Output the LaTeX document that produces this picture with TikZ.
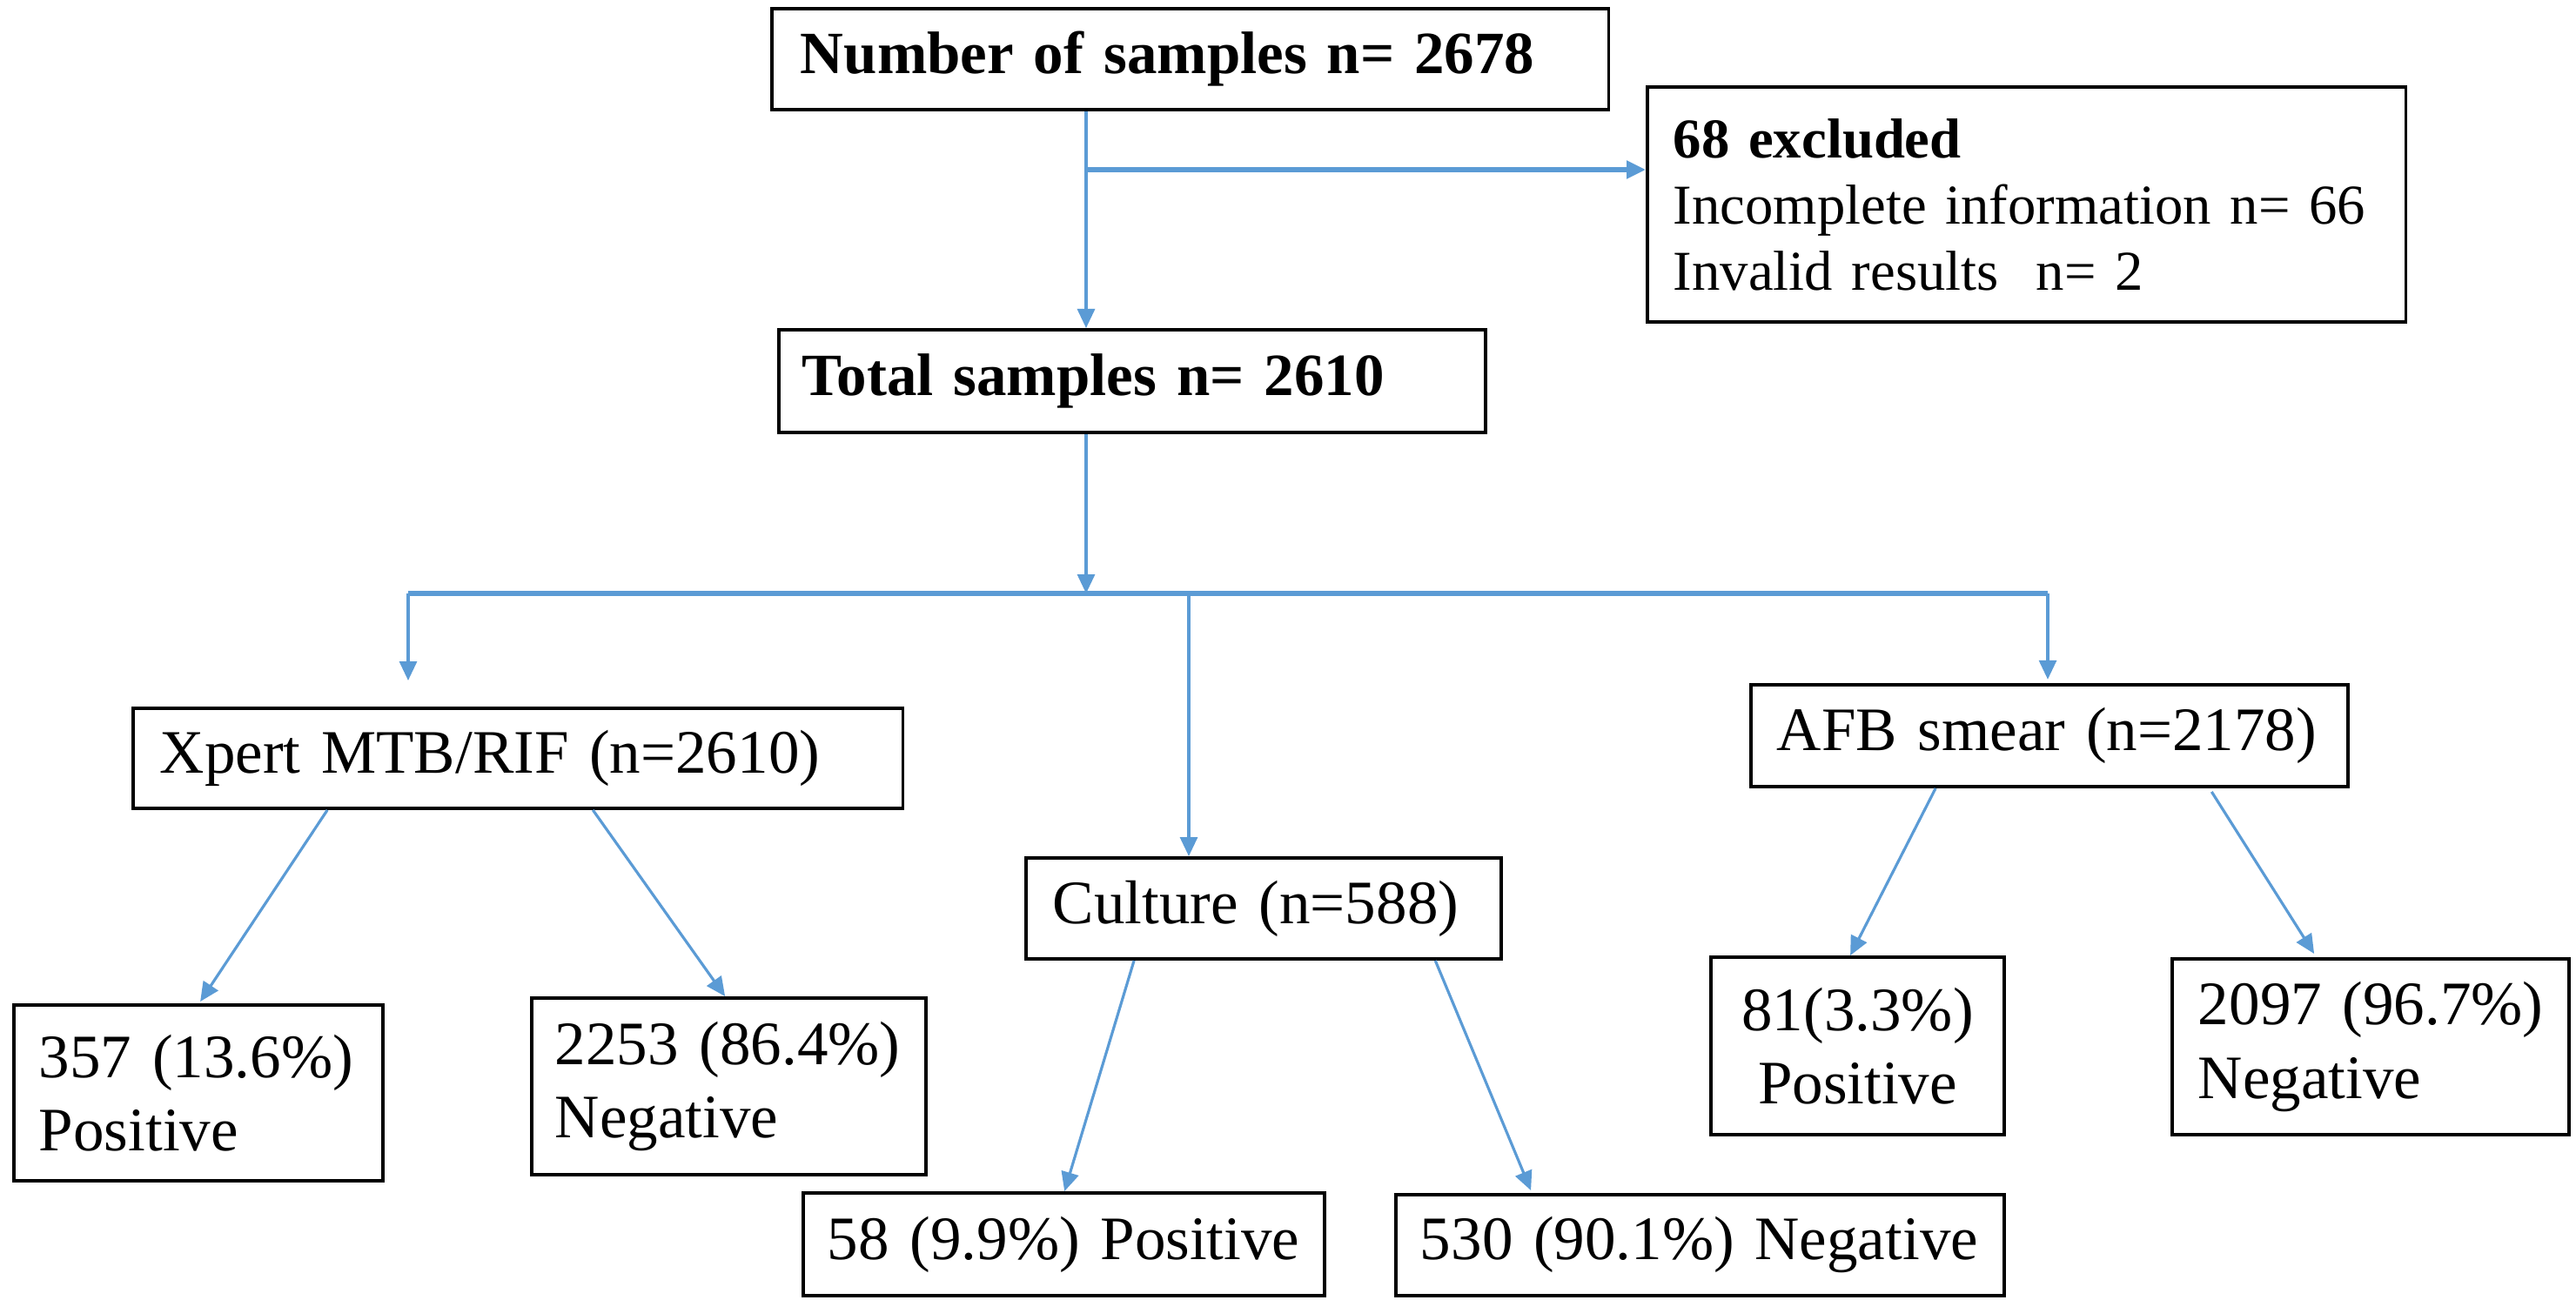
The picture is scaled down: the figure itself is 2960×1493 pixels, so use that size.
\documentclass[tikz,border=0pt]{standalone}
\usepackage{fontspec}
\setmainfont{Liberation Serif}
\usetikzlibrary{arrows.meta,calc}
\definecolor{flowblue}{HTML}{5B9BD5}
\tikzset{
  box/.style={draw=black, line width=1.1pt, anchor=north west, inner ysep=0pt},
  regtext/.style={font=\fontsize{20.2}{23.9}\selectfont},
  boldtext/.style={font=\fontsize{19.6}{23}\selectfont\bfseries},
  excltext/.style={font=\fontsize{18.4}{21.6}\selectfont},
  connline/.style={draw=flowblue, line width=0.9pt, -{Triangle[length=0.22cm,width=0.2cm]}},
  branchline/.style={draw=flowblue, line width=1.5pt},
}
\begin{document}
\begin{tikzpicture}[x=0.01cm,y=-0.01cm]
\useasboundingbox[fill=white] (0,0) rectangle (2960,1493);

% boxes
\node[box, boldtext, align=left, inner xsep=0.33cm, text width=8.95cm, minimum height=1.16cm] (num) at (885,8) {\mbox{Number of samples n= 2678}};
\node[box, excltext, align=left, inner xsep=0.30cm, text width=8.11cm, minimum height=2.70cm] (excl) at (1891,98) {\mbox{\textbf{68 excluded}}\\\mbox{Incomplete information n= 66}\\\mbox{Invalid results\ \ n= 2}};
\node[box, boldtext, align=left, inner xsep=0.27cm, text width=7.58cm, minimum height=1.18cm] (total) at (893,377) {\mbox{Total samples n= 2610}};
\node[box, regtext, align=left, inner xsep=0.31cm, text width=8.22cm, minimum height=1.15cm] (xpert) at (151,812) {\mbox{Xpert MTB/RIF (n=2610)}};
\node[box, regtext, align=left, inner xsep=0.31cm, text width=4.84cm, minimum height=1.16cm] (culture) at (1177,984) {\mbox{Culture (n=588)}};
\node[box, regtext, align=left, inner xsep=0.30cm, text width=6.26cm, minimum height=1.17cm] (afb) at (2010,785) {\mbox{AFB smear (n=2178)}};
\node[box, regtext, align=left, inner xsep=0.29cm, text width=3.66cm, minimum height=2.02cm] (pos1) at (14,1153) {\mbox{357 (13.6\%)}\\\mbox{Positive}};
\node[box, regtext, align=left, inner xsep=0.27cm, text width=3.99cm, minimum height=2.03cm] (neg1) at (609,1145) {\mbox{2253 (86.4\%)}\\\mbox{Negative}};
\node[box, regtext, align=left, inner xsep=0.28cm, text width=5.43cm, minimum height=1.18cm] (pos2) at (921,1369) {\mbox{58 (9.9\%) Positive}};
\node[box, regtext, align=left, inner xsep=0.28cm, text width=6.43cm, minimum height=1.16cm] (neg2) at (1602,1371) {\mbox{530 (90.1\%) Negative}};
\node[box, regtext, align=center, inner xsep=0.20cm, text width=2.97cm, minimum height=2.04cm] (pos3) at (1964,1098) {81(3.3\%)\\Positive};
\node[box, regtext, align=left, inner xsep=0.30cm, text width=3.96cm, minimum height=2.02cm] (neg3) at (2494,1100) {\mbox{2097 (96.7\%)}\\\mbox{Negative}};

% junction coordinates
\coordinate (s1) at (1248,195);
\coordinate (hub) at (1248,682);
\coordinate (hl) at (469,682);
\coordinate (hc) at (1366,682);
\coordinate (hr) at (2353,682);
\coordinate (xtip) at (469,782);

% connectors
\draw[connline, line width=1.5pt] (s1) -- (excl.west |- s1);
\draw[connline] (num.south -| s1) -- (total.north -| s1);
\draw[branchline] (hl) -- (hr);
\draw[connline] (total.south -| hub) -- (hub);
\draw[connline] (hl) -- (xtip);
\draw[connline] (hc) -- (culture.north -| hc);
\draw[connline] (hr) -- ([yshift=1.2pt]afb.north -| hr);

\draw[connline] ([xshift=2.25cm]xpert.south west) -- ([xshift=2.16cm,yshift=0.02cm]pos1.north west);
\draw[connline] ([xshift=5.30cm]xpert.south west) -- ([xshift=2.24cm]neg1.north west);
\draw[connline] ([xshift=1.26cm]culture.south west) -- ([xshift=3.02cm]pos2.north west);
\draw[connline] ([xshift=4.72cm]culture.south west) -- ([xshift=1.57cm,yshift=0.03cm]neg2.north west);
\draw[connline] ([xshift=2.14cm]afb.south west) -- ([xshift=1.62cm]pos3.north west);
\draw[connline] ([xshift=5.31cm,yshift=-0.04cm]afb.south west) -- ([xshift=1.65cm,yshift=0.04cm]neg3.north west);
\end{tikzpicture}
\end{document}
